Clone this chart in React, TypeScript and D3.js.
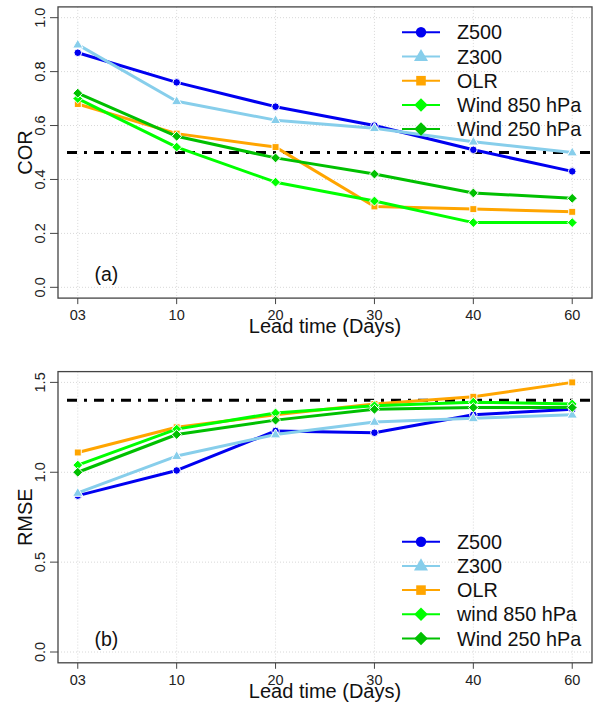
import React from "react";
import * as d3 from "d3";

const leadLabels = ["03", "10", "20", "30", "40", "60"];

const seriesNamesTop = ["Z500", "Z300", "OLR", "Wind 850 hPa", "Wind 250 hPa"];
const seriesNamesBottom = ["Z500", "Z300", "OLR", "wind 850 hPa", "Wind 250 hPa"];
const seriesColors = ["#0000F0", "#87CEEB", "#FFA500", "#00FF00", "#00C000"];
const seriesShapes = ["circle", "triangle", "square", "diamond", "diamond"];

const corZ500 = [0.87, 0.76, 0.67, 0.60, 0.51, 0.43];
const corZ300 = [0.90, 0.69, 0.62, 0.59, 0.54, 0.50];
const corOLR = [0.68, 0.57, 0.52, 0.30, 0.29, 0.28];
const corW850 = [0.70, 0.52, 0.39, 0.32, 0.24, 0.24];
const corW250 = [0.72, 0.56, 0.48, 0.42, 0.35, 0.33];

const rmseZ500 = [0.87, 1.01, 1.23, 1.22, 1.32, 1.35];
const rmseZ300 = [0.885, 1.09, 1.21, 1.28, 1.30, 1.32];
const rmseOLR = [1.11, 1.25, 1.32, 1.38, 1.42, 1.50];
const rmseW850 = [1.04, 1.24, 1.33, 1.37, 1.39, 1.38];
const rmseW250 = [1.00, 1.21, 1.29, 1.35, 1.36, 1.36];

const corTicks = [0.0, 0.2, 0.4, 0.6, 0.8, 1.0];
const rmseTicks = [0.0, 0.5, 1.0, 1.5];

const FONT = "'Liberation Sans', Arial, Helvetica, sans-serif";

function Marker({ shape, x, y, size, color, stroke }: any) {
  const sw = stroke ? 1 : 0;
  const st = stroke ? "#ffffff" : "none";
  if (shape === "circle") {
    return <circle cx={x} cy={y} r={size} fill={color} stroke={st} strokeWidth={sw} />;
  }
  if (shape === "square") {
    const s = size * 0.92;
    return <rect x={x - s} y={y - s} width={2 * s} height={2 * s} fill={color} stroke={st} strokeWidth={sw} />;
  }
  if (shape === "triangle") {
    const s = size * 1.35;
    const h = s * Math.sqrt(3);
    const pts = `${x},${y - h * 0.62} ${x - s},${y + h * 0.38} ${x + s},${y + h * 0.38}`;
    return <polygon points={pts} fill={color} stroke={st} strokeWidth={sw} />;
  }
  const s = size * 1.3;
  const pts = `${x},${y - s} ${x + s},${y} ${x},${y + s} ${x - s},${y}`;
  return <polygon points={pts} fill={color} stroke={st} strokeWidth={sw} />;
}

function Panel({ top, series, names, ticks, yMax, yLabel, refY, tag, legendY }: any) {
  const left = 58;
  const right = 592;
  const n = leadLabels.length;
  const xScale = d3.scaleLinear().domain([-0.2, n - 1 + 0.2]).range([left, right]);
  const pad = yMax * 0.04;
  const boxTop = top;
  const boxBottom = top + 291.2;
  const yScale = d3.scaleLinear().domain([-pad, yMax + pad]).range([boxBottom, boxTop]);
  const line = d3
    .line<number>()
    .x((_, i) => xScale(i))
    .y((d) => yScale(d));

  return (
    <g>
      {ticks.map((t: number) => (
        <line key={"gy" + t} x1={left} x2={right} y1={yScale(t)} y2={yScale(t)} stroke="#d8d8d8" strokeWidth={1} strokeDasharray="1,2" />
      ))}
      {leadLabels.map((_, i) => (
        <line key={"gx" + i} x1={xScale(i)} x2={xScale(i)} y1={boxTop} y2={boxBottom} stroke="#d8d8d8" strokeWidth={1} strokeDasharray="1,2" />
      ))}
      <line x1={left + 9} x2={right} y1={yScale(refY)} y2={yScale(refY)} stroke="#000" strokeWidth={3} strokeDasharray="10,7,3,7" />
      {series.map((vals: number[], si: number) => (
        <g key={"s" + si}>
          <path d={line(vals) || ""} fill="none" stroke={seriesColors[si]} strokeWidth={3} strokeLinejoin="round" />
          {vals.map((v, i) => (
            <Marker key={i} shape={seriesShapes[si]} x={xScale(i)} y={yScale(v)} size={3.8} color={seriesColors[si]} stroke />
          ))}
        </g>
      ))}
      <rect x={left} y={boxTop} width={right - left} height={boxBottom - boxTop} fill="none" stroke="#444" strokeWidth={1.3} />
      {ticks.map((t: number) => (
        <g key={"yt" + t}>
          <line x1={left - 8} x2={left} y1={yScale(t)} y2={yScale(t)} stroke="#444" strokeWidth={1} />
          <text
            transform={`translate(45,${yScale(t)}) rotate(-90)`}
            textAnchor="middle"
            fontFamily={FONT}
            fontSize={14.5}
            fill="#222"
          >
            {t.toFixed(1)}
          </text>
        </g>
      ))}
      <text transform={`translate(32,${(boxTop + boxBottom) / 2}) rotate(-90)`} textAnchor="middle" fontFamily={FONT} fontSize={20} fill="#111">
        {yLabel}
      </text>
      {leadLabels.map((lab, i) => (
        <g key={"xt" + i}>
          <line x1={xScale(i)} x2={xScale(i)} y1={boxBottom} y2={boxBottom + 6} stroke="#444" strokeWidth={1} />
          <text x={xScale(i)} y={boxBottom + 22} textAnchor="middle" fontFamily={FONT} fontSize={14.5} fill="#222">
            {lab}
          </text>
        </g>
      ))}
      <text x={(left + right) / 2} y={boxBottom + 35} textAnchor="middle" fontFamily={FONT} fontSize={20} fill="#111">
        Lead time (Days)
      </text>
      <text x={xScale(0.29)} y={boxBottom - 17} textAnchor="middle" fontFamily={FONT} fontSize={19.5} fill="#111">
        {tag}
      </text>
      {names.map((nm: string, i: number) => {
        const ly = legendY + i * 24.2;
        return (
          <g key={"lg" + i}>
            <line x1={402} x2={440} y1={ly} y2={ly} stroke={seriesColors[i]} strokeWidth={2} />
            <Marker shape={seriesShapes[i]} x={421} y={ly} size={5.2} color={seriesColors[i]} stroke={false} />
            <text x={457} y={ly + 7} fontFamily={FONT} fontSize={19.8} fill="#111">
              {nm}
            </text>
          </g>
        );
      })}
    </g>
  );
}

export default function App() {
  return (
    <div style={{ position: "absolute", left: 0, top: 0 }}>
      <svg width={596} height={702} style={{ display: "block", background: "#fff" }}>
        <rect width={596} height={702} fill="#fff" />
        <Panel
          top={6.9}
          series={[corZ500, corZ300, corOLR, corW850, corW250]}
          names={seriesNamesTop}
          ticks={corTicks}
          yMax={1.0}
          yLabel="COR"
          refY={0.5}
          tag="(a)"
          legendY={32.3}
        />
        <Panel
          top={371.6}
          series={[rmseZ500, rmseZ300, rmseOLR, rmseW850, rmseW250]}
          names={seriesNamesBottom}
          ticks={rmseTicks}
          yMax={1.5}
          yLabel="RMSE"
          refY={1.4}
          tag="(b)"
          legendY={541.7}
        />
      </svg>
    </div>
  );
}
